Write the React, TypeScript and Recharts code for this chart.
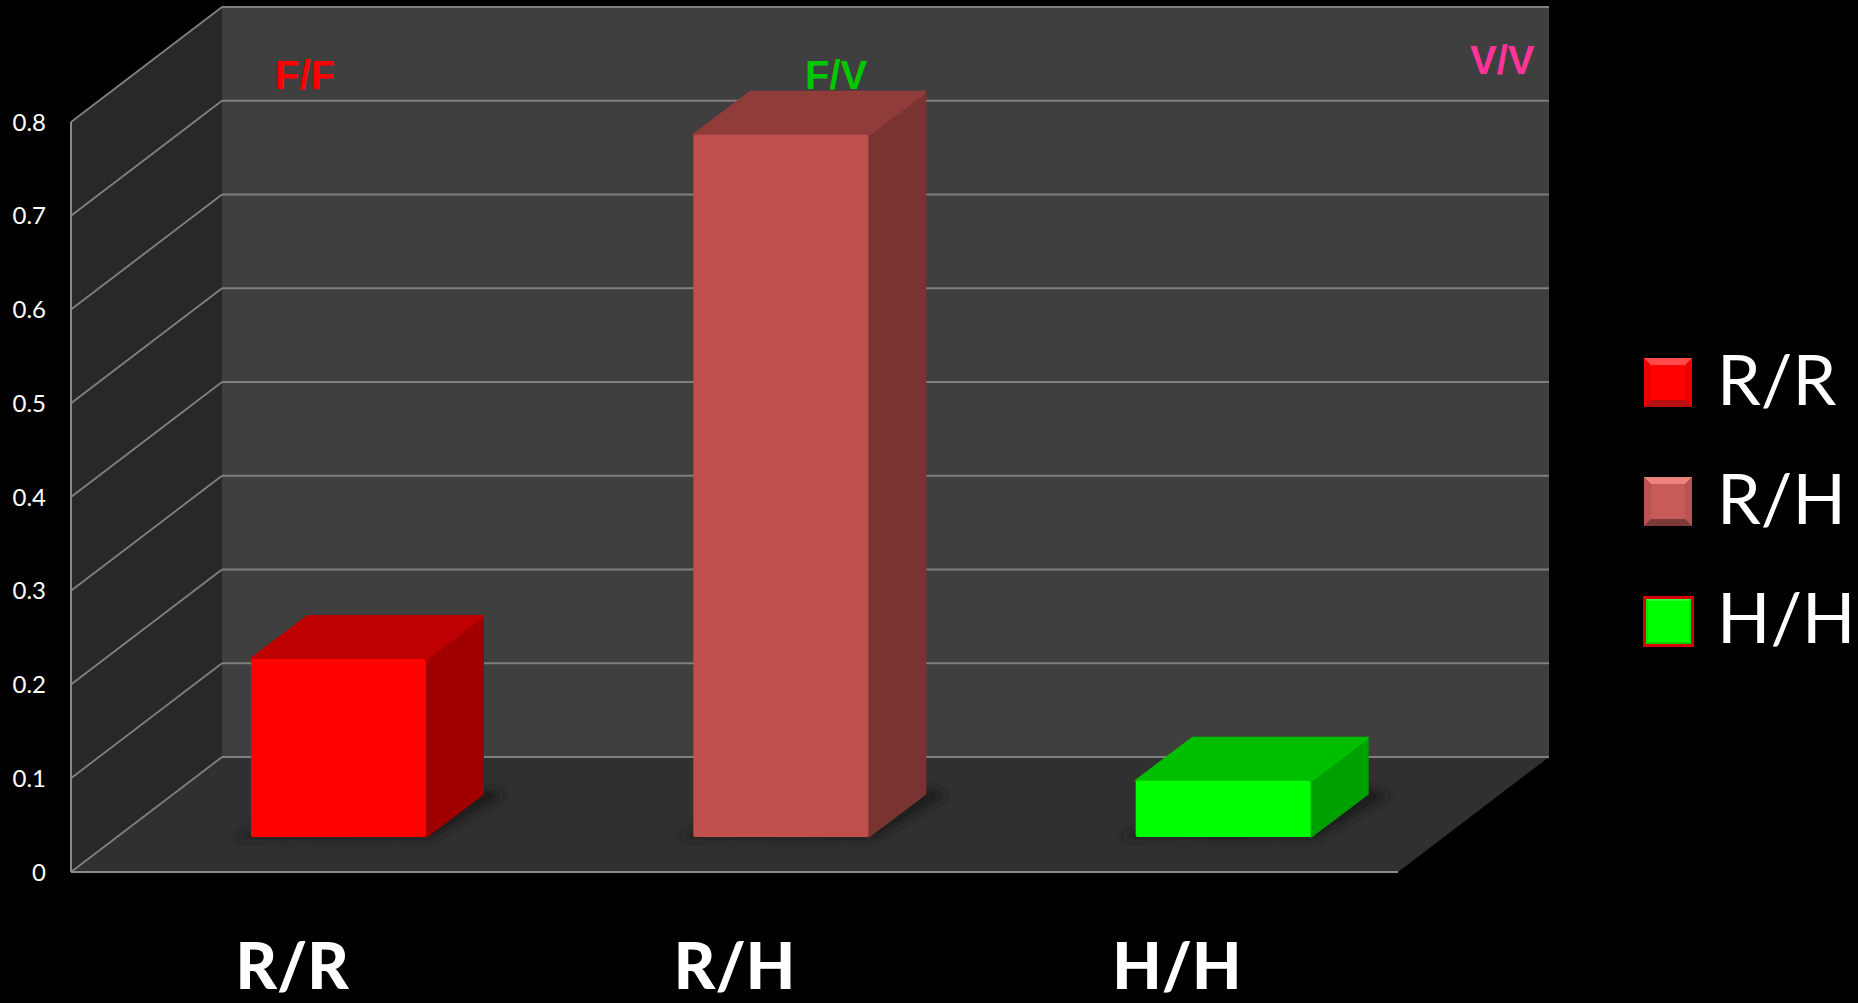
import React from 'react';
import { BarChart, Bar, Cell, XAxis, YAxis, CartesianGrid, Legend } from 'recharts';

const categories = ['R/R', 'R/H', 'H/H'];
const values = [0.19, 0.749, 0.06];
const yTicks = [0, 0.1, 0.2, 0.3, 0.4, 0.5, 0.6, 0.7, 0.8];

const faceColors = ['#ff0000', '#c0504d', '#00ff00'];
const topColors = ['#bf0000', '#903c3a', '#00bf00'];
const sideColors = ['#a00000', '#793330', '#00a000'];

const notes = [
  { text: 'F/F', x: 275, y: 89, fill: '#ff0000' },
  { text: 'F/V', x: 805, y: 89, fill: '#00c800' },
  { text: 'V/V', x: 1470, y: 74, fill: '#ff3399' },
];

const swatches = [
  { top: '#ff4a4a', bottom: '#b81010', side: '#ee0000', mid: '#ff0000', y: 358 },
  { top: '#ec837f', bottom: '#7c3a38', side: '#b85350', mid: '#c85a57', y: 477 },
  { top: '#30ff30', bottom: '#00d000', side: '#00e800', mid: '#00ff00', y: 596, outline: '#d80000' },
];

const data = categories.map((name, i) => ({ name, value: values[i] }));

const WIDTH = 1858;
const HEIGHT = 1003;
const LEFT = 71;
const RIGHT = 1398;
const TOP = 122;
const BOTTOM = 872;
const Y_MAX = 0.8;
// how far the back wall sits behind the front plane
const DEPTH_X = 151;
const DEPTH_Y = -115;
// bars stand a little way into the floor, and have their own depth
const BAR_SHIFT_X = 46;
const BAR_SHIFT_Y = -35;
const BAR_DEPTH_X = 57;
const BAR_DEPTH_Y = -43;

// separate svg behind the chart, the grid layer would end up under the walls otherwise
const Walls = () => (
  <svg width={WIDTH} height={HEIGHT} style={{ position: 'absolute', left: 0, top: 0 }}>
    <polygon
      points={`${LEFT + DEPTH_X},${TOP + DEPTH_Y} ${RIGHT + DEPTH_X},${TOP + DEPTH_Y} ${RIGHT + DEPTH_X},${BOTTOM + DEPTH_Y} ${LEFT + DEPTH_X},${BOTTOM + DEPTH_Y}`}
      fill="#3f3f3f"
    />
    <polygon
      points={`${LEFT},${TOP} ${LEFT + DEPTH_X},${TOP + DEPTH_Y} ${LEFT + DEPTH_X},${BOTTOM + DEPTH_Y} ${LEFT},${BOTTOM}`}
      fill="#282828"
    />
    <polygon
      points={`${LEFT},${BOTTOM} ${RIGHT},${BOTTOM} ${RIGHT + DEPTH_X},${BOTTOM + DEPTH_Y} ${LEFT + DEPTH_X},${BOTTOM + DEPTH_Y}`}
      fill="#303030"
    />
    <defs>
      <filter id="barShadow" x="-30%" y="-60%" width="160%" height="220%">
        <feGaussianBlur stdDeviation="5" />
      </filter>
    </defs>
  </svg>
);

const GridLine = (props: any) => {
  const { x1, y1 } = props;
  const backX = x1 + DEPTH_X;
  const backY = y1 + DEPTH_Y;
  return (
    <g key={props.key}>
      <line x1={x1} y1={y1} x2={backX} y2={backY} stroke="#808080" strokeWidth={1.8} />
      <line x1={backX} y1={backY} x2={RIGHT + DEPTH_X} y2={backY} stroke="#808080" strokeWidth={2} />
    </g>
  );
};

const Bar3D = (props: any) => {
  const { x, y, width, height, index } = props;
  const l = x + BAR_SHIFT_X;
  const r = l + width;
  const t = y + BAR_SHIFT_Y;
  const b = t + height;
  const dx = BAR_DEPTH_X;
  const dy = BAR_DEPTH_Y;
  return (
    <g>
      <polygon
        points={`${l - 18},${b + 1} ${r + 4},${b + 2} ${r + dx + 22},${b + dy + 1} ${r + dx},${b + dy - 6} ${l},${b - 6}`}
        fill="#1a1a1a"
        filter="url(#barShadow)"
      />
      <polygon
        points={`${l},${t} ${r},${t} ${r + dx},${t + dy} ${l + dx},${t + dy}`}
        fill={topColors[index]}
        stroke={topColors[index]}
        strokeWidth={2}
        strokeLinejoin="round"
      />
      <polygon
        points={`${r},${t} ${r + dx},${t + dy} ${r + dx},${b + dy} ${r},${b}`}
        fill={sideColors[index]}
        stroke={sideColors[index]}
        strokeWidth={2}
        strokeLinejoin="round"
      />
      <line x1={r} y1={t} x2={r + dx} y2={t + dy} stroke={topColors[index]} strokeWidth={3} />
      <rect x={l} y={t} width={width} height={height} rx={2} fill={faceColors[index]} />
    </g>
  );
};

const LegendBox = () => (
  <div style={{ position: 'absolute', left: 0, top: 0, width: 0, height: 0 }}>
    {categories.map((name, i) => {
      const s = swatches[i];
      return (
        <React.Fragment key={name}>
          <div
            style={{
              position: 'absolute',
              left: s.outline ? 1643 : 1644,
              top: s.y,
              width: s.outline ? 51 : 48,
              height: s.outline ? 51 : 49,
              boxSizing: 'border-box',
              background: s.outline ? s.outline : s.mid,
              padding: s.outline ? 3 : 0,
            }}
          >
            <div
              style={{
                width: '100%',
                height: '100%',
                boxSizing: 'border-box',
                background: s.mid,
                borderStyle: 'solid',
                borderWidth: s.outline ? 2 : 7,
                borderColor: `${s.top} ${s.side} ${s.bottom} ${s.side}`,
              }}
            />
          </div>
          <div
            style={{
              position: 'absolute',
              left: 1717,
              top: s.y - 23,
              fontFamily: 'Lato',
              fontSize: 70,
              lineHeight: '86px',
              color: '#ffffff',
              whiteSpace: 'nowrap',
            }}
          >
            {name}
          </div>
        </React.Fragment>
      );
    })}
  </div>
);

export default function App() {
  return (
    <div style={{ position: 'absolute', left: 0, top: 0, width: WIDTH, height: HEIGHT, background: '#000000', overflow: 'hidden' }}>
      <Walls />
      <BarChart
        width={WIDTH}
        height={HEIGHT}
        data={data}
        barSize={175}
        margin={{ top: TOP, right: WIDTH - RIGHT, left: 0, bottom: 0 }}
      >
        <CartesianGrid vertical={false} horizontal={GridLine} horizontalValues={yTicks} />
        <XAxis
          dataKey="name"
          height={HEIGHT - BOTTOM}
          axisLine={{ stroke: '#8a8a8a', strokeWidth: 2 }}
          tickLine={false}
          tickMargin={66}
          tick={{ fill: '#ffffff', fontSize: 64, fontWeight: 900, fontFamily: 'Lato' }}
        />
        <YAxis
          width={LEFT}
          domain={[0, Y_MAX]}
          ticks={yTicks}
          axisLine={{ stroke: '#8a8a8a', strokeWidth: 2 }}
          tickLine={false}
          tickMargin={19}
          tick={{ fill: '#ffffff', fontSize: 24, fontFamily: 'Lato' }}
        />
        {notes.map((n) => (
          <text key={n.text} x={n.x} y={n.y} fill={n.fill} fontSize={40} fontWeight={700} fontFamily="Liberation Sans">
            {n.text}
          </text>
        ))}
        <Bar dataKey="value" isAnimationActive={false} shape={Bar3D}>
          {data.map((d, i) => (
            <Cell key={d.name} fill={faceColors[i]} />
          ))}
        </Bar>
        <Legend content={LegendBox} wrapperStyle={{ left: 0, top: 0, width: 0, height: 0 }} />
      </BarChart>
    </div>
  );
}
